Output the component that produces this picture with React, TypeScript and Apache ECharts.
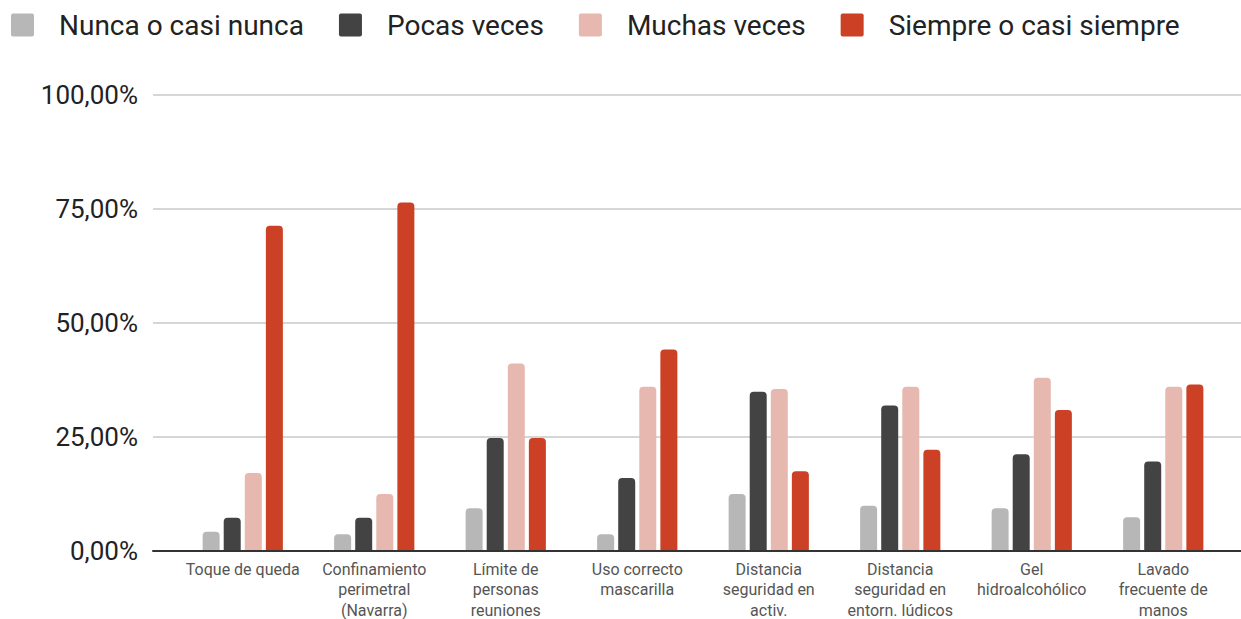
import React, { useEffect, useRef } from "react";
import * as echarts from "echarts";

const categories = [
  "Toque de queda",
  "Confinamiento\nperimetral\n(Navarra)",
  "Límite de\npersonas\nreuniones",
  "Uso correcto\nmascarilla",
  "Distancia\nseguridad en\nactiv.",
  "Distancia\nseguridad en\nentorn. lúdicos",
  "Gel\nhidroalcohólico",
  "Lavado\nfrecuente de\nmanos",
];

const seriesNames = [
  "Nunca o casi nunca",
  "Pocas veces",
  "Muchas veces",
  "Siempre o casi siempre",
];

const nunca = [0.042, 0.037, 0.094, 0.037, 0.125, 0.099, 0.094, 0.074];
const pocas = [0.073, 0.073, 0.248, 0.16, 0.349, 0.319, 0.212, 0.196];
const muchas = [0.171, 0.125, 0.411, 0.36, 0.355, 0.36, 0.38, 0.36];
const siempre = [0.713, 0.764, 0.248, 0.442, 0.175, 0.222, 0.309, 0.365];

const yTicks = [0, 0.25, 0.5, 0.75, 1];

const colors = ["#b7b7b7", "#434343", "#e6b8af", "#cc4125"];

export default function App() {
  const ref = useRef<HTMLDivElement>(null);
  useEffect(() => {
    if (!ref.current) return;
    document.body.style.margin = "0";
    const chart = echarts.init(ref.current, undefined, { renderer: "svg" });
    const values = [nunca, pocas, muchas, siempre];
    const fmt = (v: number) => (v * 100).toFixed(2).replace(".", ",") + "%";
    chart.setOption({
      animation: false,
      textStyle: { fontFamily: "Roboto" },
      color: colors,
      legend: {
        left: 11,
        top: 11,
        padding: 0,
        itemWidth: 23,
        itemHeight: 23,
        itemGap: 35,
        icon: "path://M2,0 H21 Q23,0 23,2 V21 Q23,23 21,23 H2 Q0,23 0,21 V2 Q0,0 2,0 Z",
        textStyle: {
          fontSize: 28,
          color: "#222",
          fontFamily: "Roboto",
          padding: [0, 0, 0, 20],
        },
        data: seriesNames,
      },
      grid: [
        { left: 153, right: 0, top: 95, height: 456, outerBoundsMode: "none", containLabel: false },
        { left: 177, right: 12, top: 95, height: 456, outerBoundsMode: "none", containLabel: false },
      ],
      xAxis: [
        {
          gridIndex: 0,
          type: "category",
          data: [""],
          axisLine: { show: true, lineStyle: { color: "#333", width: 2 } },
          axisTick: { show: false },
          axisLabel: { show: false },
          z: 5,
        },
        {
          gridIndex: 1,
          type: "category",
          position: "bottom",
          data: categories,
          axisLine: { show: false },
          axisTick: { show: false },
          axisLabel: {
            interval: 0,
            fontSize: 16,
            color: "#555",
            lineHeight: 20.5,
            margin: 8,
            fontFamily: "Roboto",
          },
        },
      ],
      yAxis: [
        {
          gridIndex: 0,
          type: "value",
          min: 0,
          max: 1,
          interval: 0.25,
          axisLine: { show: false },
          axisTick: { show: false },
          axisLabel: {
            fontSize: 26,
            color: "#222",
            margin: 15,
            fontFamily: "Roboto",
            formatter: (v: number) => (yTicks.includes(v) ? fmt(v) : ""),
          },
          splitLine: { lineStyle: { color: "#c8c8c8", width: 1.5 } },
        },
        {
          gridIndex: 1,
          type: "value",
          min: 0,
          max: 1,
          show: false,
          splitLine: { show: false },
        },
      ],
      series: seriesNames.map((name, i) => ({
        name,
        type: "bar",
        xAxisIndex: 1,
        yAxisIndex: 1,
        data: values[i],
        barWidth: 17,
        barGap: "24%",
        itemStyle: { color: colors[i], borderRadius: [4, 4, 0, 0] },
      })),
    });
    return () => chart.dispose();
  }, []);
  return <div ref={ref} style={{ width: 1241, height: 619 }} />;
}
